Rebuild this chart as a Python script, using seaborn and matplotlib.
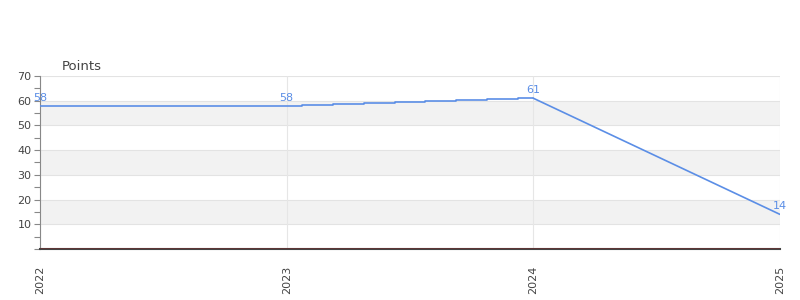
import numpy as np
import pandas as pd
import matplotlib
matplotlib.use("Agg")
import matplotlib.pyplot as plt
import seaborn as sns

# Data
step_years = [2022, 2023, 2023.125, 2023.25, 2023.375, 2023.5, 2023.625, 2023.75, 2023.875, 2024]
step_values = [58, 58, 58.375, 58.75, 59.125, 59.5, 59.875, 60.25, 60.625, 61]
decline_years = [2024, 2025]
decline_values = [61, 14]
label_years = [2022, 2023, 2024, 2025]
label_values = [58, 58, 61, 14]
label_texts = ["58", "58", "61", "14"]
tick_years = [2022, 2023, 2024, 2025]

sns.set_theme(style="white")
plt.rcParams['font.family'] = ['DejaVu Sans']

line_color = "#5b8ee6"
fig = plt.figure(figsize=(8, 3), dpi=100)
ax = fig.add_axes([0.05, 0.17, 0.925, 0.5767])

# bands
for lo in (10, 30, 50):
    ax.axhspan(lo, lo + 10, color="#f2f2f2", zorder=0, lw=0)
for y in range(10, 71, 10):
    ax.axhline(y, color="#e3e3e3", lw=0.8, zorder=0.5)
for x in tick_years:
    ax.axvline(x, color="#e6e6e6", lw=0.8, zorder=0.5)

df1 = pd.DataFrame({"year": step_years, "value": step_values})
df2 = pd.DataFrame({"year": decline_years, "value": decline_values})
sns.lineplot(data=df1, x="year", y="value", ax=ax, color=line_color, lw=1.2,
             drawstyle="steps-mid", zorder=3)
sns.lineplot(data=df2, x="year", y="value", ax=ax, color=line_color, lw=1.2, zorder=3)

for x, y, t in zip(label_years, label_values, label_texts):
    ax.text(x, y + 1.2, t, color=line_color, fontsize=8, ha="center", va="bottom", zorder=4)

ax.axhline(0, color="#cc0000", lw=1.0, zorder=4)

ax.set_xlim(2022, 2025)
ax.set_ylim(0, 70)
ax.set_xticks(tick_years)
ax.set_xticklabels([str(t) for t in tick_years], rotation=90, fontsize=8, color="#444444")
ax.set_yticks(range(0, 71, 10))
ax.set_yticklabels([""] + [str(v) for v in range(10, 71, 10)], fontsize=8, color="#444444")
ax.set_yticks(range(5, 71, 10), minor=True)
ax.tick_params(axis="y", which="both", left=True, length=4, width=0.8, color="#888888", pad=2)
ax.tick_params(axis="x", which="both", bottom=False, pad=6)
ax.set_xlabel("")
ax.set_ylabel("")

for s in ("top", "right"):
    ax.spines[s].set_visible(False)
ax.spines["left"].set_color("#888888")
ax.spines["left"].set_linewidth(0.8)
ax.spines["bottom"].set_color("#444444")
ax.spines["bottom"].set_linewidth(1.5)

fig.text(62 / 800, 1 - 66 / 300, "Points", fontsize=9.5, color="#444444", ha="left", va="center")

fig.savefig("out.png", dpi=100)
